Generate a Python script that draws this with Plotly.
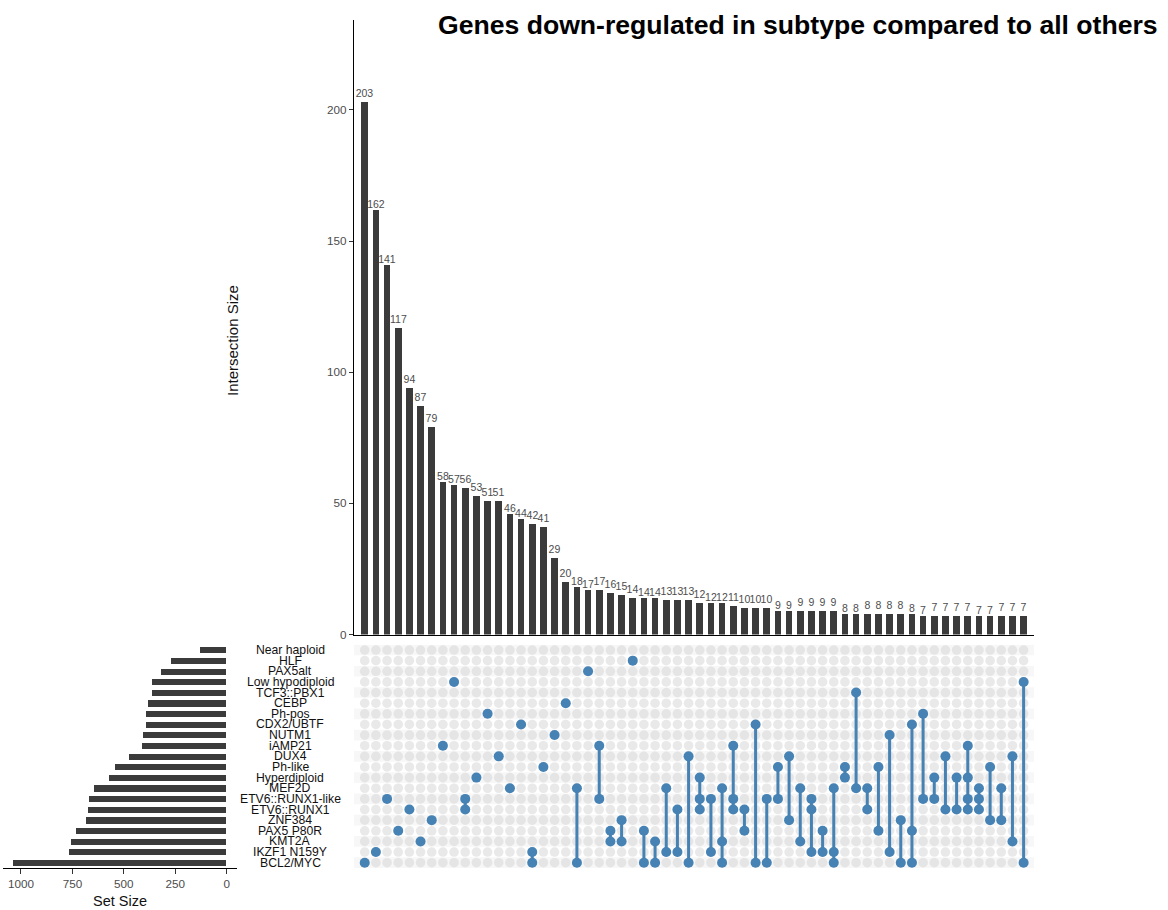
import plotly.graph_objects as go

W, H = 1168, 910
H_EFF = 904.0  # empirical vertical calibration of the rendered page

sets = ["Near haploid", "HLF", "PAX5alt", "Low hypodiploid", "TCF3::PBX1", "CEBP",
        "Ph-pos", "CDX2/UBTF", "NUTM1", "iAMP21", "DUX4", "Ph-like", "Hyperdiploid",
        "MEF2D", "ETV6::RUNX1-like", "ETV6::RUNX1", "ZNF384", "PAX5 P80R", "KMT2A",
        "IKZF1 N159Y", "BCL2/MYC"]
set_sizes = [129, 270, 319, 364, 364, 379, 393, 393, 404, 408, 472, 542, 570, 642,
             668, 673, 684, 733, 756, 767, 1036]

intersection_sizes = [203, 162, 141, 117, 94, 87, 79, 58, 57, 56, 53, 51, 51, 46, 44,
                      42, 41, 29, 20, 18, 17, 17, 16, 15, 14, 14, 14, 13, 13, 13, 12,
                      12, 12, 11, 10, 10, 10, 9, 9, 9, 9, 9, 9, 8, 8, 8, 8, 8, 8, 8,
                      7, 7, 7, 7, 7, 7, 7, 7, 7, 7]

memberships = [
    ["BCL2/MYC"], ["IKZF1 N159Y"], ["ETV6::RUNX1-like"], ["PAX5 P80R"], ["ETV6::RUNX1"],
    ["KMT2A"], ["ZNF384"], ["iAMP21"], ["Low hypodiploid"], ["ETV6::RUNX1-like", "ETV6::RUNX1"],
    ["Hyperdiploid"], ["Ph-pos"], ["DUX4"], ["MEF2D"], ["CDX2/UBTF"],
    ["IKZF1 N159Y", "BCL2/MYC"], ["Ph-like"], ["NUTM1"], ["CEBP"], ["MEF2D", "BCL2/MYC"],
    ["PAX5alt"], ["iAMP21", "ETV6::RUNX1-like"], ["PAX5 P80R", "KMT2A"], ["ZNF384", "KMT2A"],
    ["HLF"], ["PAX5 P80R", "BCL2/MYC"], ["KMT2A", "BCL2/MYC"], ["MEF2D", "IKZF1 N159Y"],
    ["ETV6::RUNX1", "IKZF1 N159Y"], ["DUX4", "BCL2/MYC"],
    ["Hyperdiploid", "ETV6::RUNX1-like", "ETV6::RUNX1"], ["ETV6::RUNX1-like", "IKZF1 N159Y"],
    ["MEF2D", "KMT2A", "BCL2/MYC"], ["iAMP21", "ETV6::RUNX1-like", "ETV6::RUNX1"],
    ["ETV6::RUNX1", "PAX5 P80R"], ["CDX2/UBTF", "BCL2/MYC"], ["ETV6::RUNX1-like", "BCL2/MYC"],
    ["Ph-like", "ETV6::RUNX1-like"], ["DUX4", "ZNF384"], ["MEF2D", "KMT2A"],
    ["ETV6::RUNX1-like", "ETV6::RUNX1", "IKZF1 N159Y"], ["PAX5 P80R", "IKZF1 N159Y"],
    ["MEF2D", "IKZF1 N159Y", "BCL2/MYC"], ["Ph-like", "Hyperdiploid"], ["TCF3::PBX1", "MEF2D"],
    ["MEF2D", "ETV6::RUNX1"], ["Ph-like", "PAX5 P80R"], ["NUTM1", "IKZF1 N159Y"],
    ["ZNF384", "BCL2/MYC"], ["CDX2/UBTF", "PAX5 P80R", "BCL2/MYC"], ["Ph-pos", "ETV6::RUNX1-like"],
    ["Hyperdiploid", "ETV6::RUNX1-like"], ["DUX4", "ETV6::RUNX1"], ["Hyperdiploid", "ETV6::RUNX1"],
    ["iAMP21", "Hyperdiploid", "ETV6::RUNX1-like", "ETV6::RUNX1"],
    ["MEF2D", "ETV6::RUNX1-like", "ETV6::RUNX1"], ["Ph-like", "ZNF384"], ["MEF2D", "ZNF384"],
    ["DUX4", "KMT2A"], ["Low hypodiploid", "BCL2/MYC"],
]

title_text = "Genes down-regulated in subtype compared to all others"

BAR = "#3B3B3B"
BLUE = "#4682B4"
GREY_TXT = "#4D4D4D"
FONT = "Liberation Sans, Arial, sans-serif"


def px_x(p):
    return p / W


def px_y(p):
    return 1 - p / H_EFF


n_cols = len(intersection_sizes)
n_sets = len(sets)
cols = list(range(n_cols))
row_of = {s: i for i, s in enumerate(sets)}

fig = go.Figure()

# Intersection size bars
fig.add_trace(go.Bar(
    x=cols, y=intersection_sizes, width=0.6, marker_color=BAR, marker_line_width=0,
    text=[str(v) for v in intersection_sizes], textposition="outside",
    textfont=dict(size=10.5, color=GREY_TXT, family=FONT),
    constraintext="none", cliponaxis=False, xaxis="x", yaxis="y", showlegend=False,
    hoverinfo="skip"))

# Matrix background dots
gx, gy = [], []
for c in cols:
    for r in range(n_sets):
        gx.append(c)
        gy.append(r)
fig.add_trace(go.Scatter(
    x=gx, y=gy, mode="markers", xaxis="x2", yaxis="y2", showlegend=False,
    marker=dict(size=9.6, color="rgba(212,212,212,0.5)", line_width=0), hoverinfo="skip"))

# Membership lines
lx, ly = [], []
for c, mem in enumerate(memberships):
    rows = [row_of[s] for s in mem]
    if len(rows) > 1:
        lx += [c, c, None]
        ly += [min(rows), max(rows), None]
fig.add_trace(go.Scatter(
    x=lx, y=ly, mode="lines", xaxis="x2", yaxis="y2", showlegend=False,
    line=dict(color=BLUE, width=3), hoverinfo="skip"))

# Membership dots
dx, dy = [], []
for c, mem in enumerate(memberships):
    for s in mem:
        dx.append(c)
        dy.append(row_of[s])
fig.add_trace(go.Scatter(
    x=dx, y=dy, mode="markers", xaxis="x2", yaxis="y2", showlegend=False,
    marker=dict(size=10, color=BLUE, line_width=0), hoverinfo="skip"))

# Set size bars
fig.add_trace(go.Bar(
    x=set_sizes, y=list(range(n_sets)), orientation="h", width=0.58, marker_color=BAR,
    marker_line_width=0, xaxis="x3", yaxis="y3", showlegend=False, hoverinfo="skip"))

xr = [-0.96, 59.93]
xdom = [px_x(354), px_x(1034)]
mat_dom = [px_y(868), px_y(644.7)]

shapes = []
for r in range(0, n_sets, 2):
    shapes.append(dict(type="rect", xref="x2 domain", yref="y2", x0=0, x1=1,
                       y0=r - 0.5, y1=r + 0.5, fillcolor="rgba(224,224,224,0.25)",
                       line_width=0, layer="below"))

annotations = []
for r, s in enumerate(sets):
    annotations.append(dict(x=px_x(290), xref="paper", y=r, yref="y2", text=s,
                            showarrow=False, xanchor="center", yanchor="middle",
                            font=dict(size=12.2, color="#111111", family=FONT)))
annotations.append(dict(x=px_x(232), y=px_y(341), xref="paper", yref="paper",
                        text="Intersection Size", textangle=-90, showarrow=False,
                        xanchor="center", yanchor="middle",
                        font=dict(size=15, color="#111111", family=FONT)))
annotations.append(dict(x=px_x(797.5), y=px_y(25), xref="paper", yref="paper",
                        text="<b>" + title_text + "</b>", showarrow=False,
                        xanchor="center", yanchor="middle",
                        font=dict(size=26.6, color="#000000", family=FONT)))

tickfont = dict(size=11.7, color=GREY_TXT, family=FONT)

fig.update_layout(
    width=W, height=H, margin=dict(l=0, r=0, t=0, b=0),
    paper_bgcolor="white", plot_bgcolor="rgba(0,0,0,0)",
    bargap=0, shapes=shapes, annotations=annotations,
    xaxis=dict(domain=xdom, range=xr, anchor="y", showticklabels=False, ticks="",
               showgrid=False, zeroline=False, showline=True, linecolor="black",
               linewidth=1.3),
    yaxis=dict(domain=[px_y(634.5), px_y(20)], range=[0, 234.3], anchor="x",
               tickvals=[0, 50, 100, 150, 200], ticks="outside", ticklen=4,
               tickcolor="#333333", tickwidth=1, tickfont=tickfont, showgrid=False,
               zeroline=False, showline=True, linecolor="black", linewidth=1.3),
    xaxis2=dict(domain=xdom, range=xr, anchor="y2", visible=False),
    yaxis2=dict(domain=mat_dom, range=[n_sets - 0.5, -0.5], anchor="x2", visible=False),
    xaxis3=dict(domain=[px_x(3.3), px_x(236.7)], range=[1086, -48.6], anchor="y3",
                tickvals=[0, 250, 500, 750, 1000], ticks="outside", ticklen=5,
                tickcolor="#333333", tickfont=tickfont, showgrid=False, zeroline=False,
                showline=True, linecolor="black", linewidth=1.3,
                title=dict(text="Set Size", standoff=6,
                           font=dict(size=14.5, color="#111111", family=FONT))),
    yaxis3=dict(domain=mat_dom, range=[n_sets - 0.5, -0.5], anchor="x3", visible=False),
)

fig.write_html("out.html")
